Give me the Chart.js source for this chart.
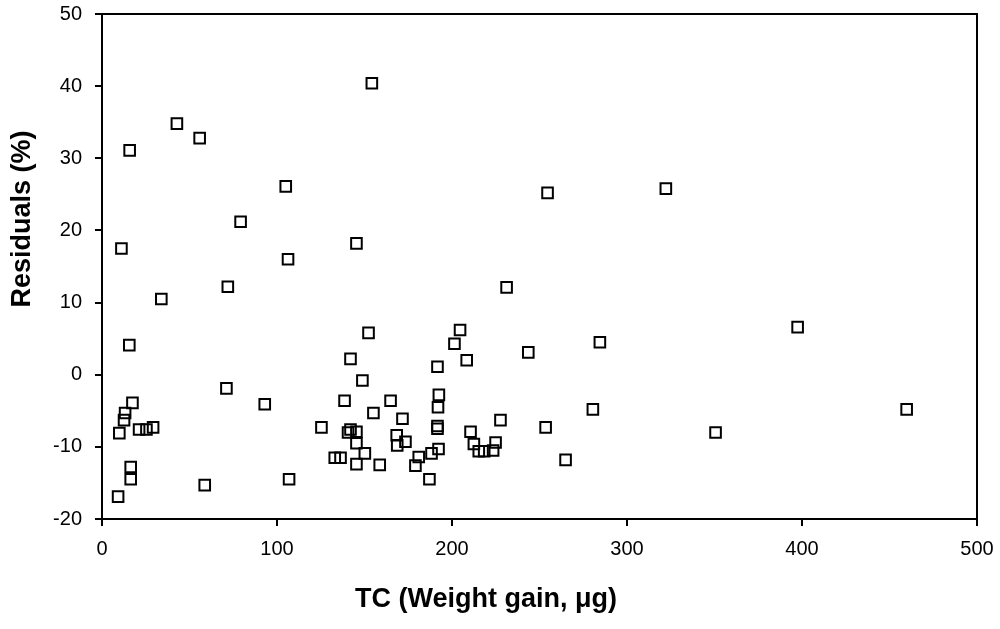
<!DOCTYPE html>
<html>
<head>
<meta charset="utf-8">
<title>Residuals vs TC</title>
<script src="https://cdn.jsdelivr.net/npm/chart.js@4.4.1/dist/chart.umd.min.js"></script>
<style>
    html, body { margin: 0; padding: 0; background: #fff; }
    #wrap { width: 1000px; height: 629px; }
</style>
</head>
<body>
<div id="wrap"><canvas id="residualChart" width="1000" height="629"></canvas></div>
<script>
// TC weight gain (µg) and matching residuals (%)
const tcValues = [
    9.2, 9.9, 11.1, 12.6, 13.2, 15.6, 15.8, 16.4, 16.4, 17.4,
    21.2, 25.4, 29.2, 33.9, 42.8, 55.8, 58.7, 71.1, 71.9, 79.2,
    93.0, 105.0, 106.3, 106.9, 125.4, 133.0, 136.3, 138.6, 140.6, 142.0,
    142.0, 145.4, 145.4, 145.4, 145.4, 148.8, 150.2, 152.3, 154.2, 155.1,
    158.7, 164.9, 168.4, 168.7, 171.7, 173.4, 179.1, 181.0, 187.1, 188.3,
    191.7, 192.5, 192.0, 191.7, 191.7, 192.3, 201.4, 204.6, 208.4, 210.6,
    212.5, 215.3, 218.4, 223.5, 224.9, 227.7, 231.2, 243.6, 253.5, 254.6,
    264.9, 280.5, 284.5, 322.2, 350.6, 397.5, 459.8
];
const residuals = [
    -16.9, -8.1, 17.5, -6.3, -5.3, 4.1, 31.1, -12.8, -14.5, -3.9,
    -7.6, -7.6, -7.3, 10.5, 34.8, 32.8, -15.3, -1.9, 12.2, 21.2,
    -4.1, 26.1, 16.0, -14.5, -7.3, -11.5, -11.5, -3.6, -8.0, -7.6,
    2.2, 18.2, -7.9, -9.5, -12.4, -0.8, -10.9, 5.8, 40.4, -5.3,
    -12.5, -3.6, -8.4, -9.8, -6.1, -9.3, -12.6, -11.4, -14.5, -10.9,
    1.1, -2.8, -4.5, -7.1, -7.5, -10.3, 4.3, 6.2, 2.0, -7.9,
    -9.6, -10.6, -10.6, -10.5, -9.4, -6.3, 12.1, 3.1, -7.3, 25.2,
    -11.8, -4.8, 4.5, 25.8, -8.0, 6.6, -4.8
];

const xTicks = { min: 0, max: 500, step: 100 };
const yTicks = { min: -20, max: 50, step: 10 };

const xTitle = 'TC (Weight gain, μg)';
const yTitle = 'Residuals (%)';

const FONT = '"Liberation Sans", Arial, Helvetica, sans-serif';

// frame round the plot area plus the two axis titles
const framePlugin = {
    id: 'frame',
    afterDraw(chart) {
        const { ctx, chartArea: a } = chart;
        ctx.save();
        ctx.strokeStyle = '#000';
        ctx.lineWidth = 2;
        ctx.strokeRect(a.left, a.top, a.right - a.left, a.bottom - a.top);

        ctx.fillStyle = '#000';
        ctx.font = 'bold 27px ' + FONT;
        ctx.textAlign = 'center';
        ctx.textBaseline = 'middle';
        ctx.fillText(xTitle, 486, 600);

        ctx.translate(23, 219);
        ctx.rotate(-Math.PI / 2);
        ctx.fillText(yTitle, 0, 0);
        ctx.restore();
    }
};

const ResidualPlot = {
    chart: null,

    init() {
        const points = tcValues.map((x, i) => ({ x: x, y: residuals[i] }));
        const ctx = document.getElementById('residualChart').getContext('2d');

        this.chart = new Chart(ctx, {
            type: 'scatter',
            data: {
                datasets: [{
                    data: points,
                    pointStyle: 'rect',
                    pointRadius: 7.5,
                    pointHoverRadius: 7.5,
                    borderColor: '#000',
                    backgroundColor: 'rgba(0,0,0,0)',
                    borderWidth: 2
                }]
            },
            options: {
                responsive: false,
                animation: false,
                devicePixelRatio: 1,
                layout: { padding: { top: 14, right: 23, left: 0, bottom: 0 } },
                plugins: {
                    legend: { display: false },
                    tooltip: { enabled: false }
                },
                scales: {
                    x: {
                        type: 'linear',
                        min: xTicks.min,
                        max: xTicks.max,
                        afterFit: (s) => { s.height = 110; s.paddingLeft = 0; s.paddingRight = 0; },
                        ticks: {
                            stepSize: xTicks.step,
                            color: '#000',
                            font: { family: FONT, size: 20 },
                            padding: 11,
                            maxRotation: 0
                        },
                        grid: { drawOnChartArea: false, drawTicks: true, tickLength: 7, color: '#000', lineWidth: 2 },
                        border: { display: true, color: '#000', width: 2 }
                    },
                    y: {
                        type: 'linear',
                        min: yTicks.min,
                        max: yTicks.max,
                        afterFit: (s) => { s.width = 102; s.paddingTop = 0; s.paddingBottom = 0; },
                        ticks: {
                            stepSize: yTicks.step,
                            color: '#000',
                            font: { family: FONT, size: 20 },
                            padding: 13
                        },
                        grid: { drawOnChartArea: false, drawTicks: true, tickLength: 7, color: '#000', lineWidth: 2 },
                        border: { display: true, color: '#000', width: 2 }
                    }
                }
            },
            plugins: [framePlugin]
        });
    }
};

document.addEventListener('DOMContentLoaded', () => ResidualPlot.init());
</script>
</body>
</html>
